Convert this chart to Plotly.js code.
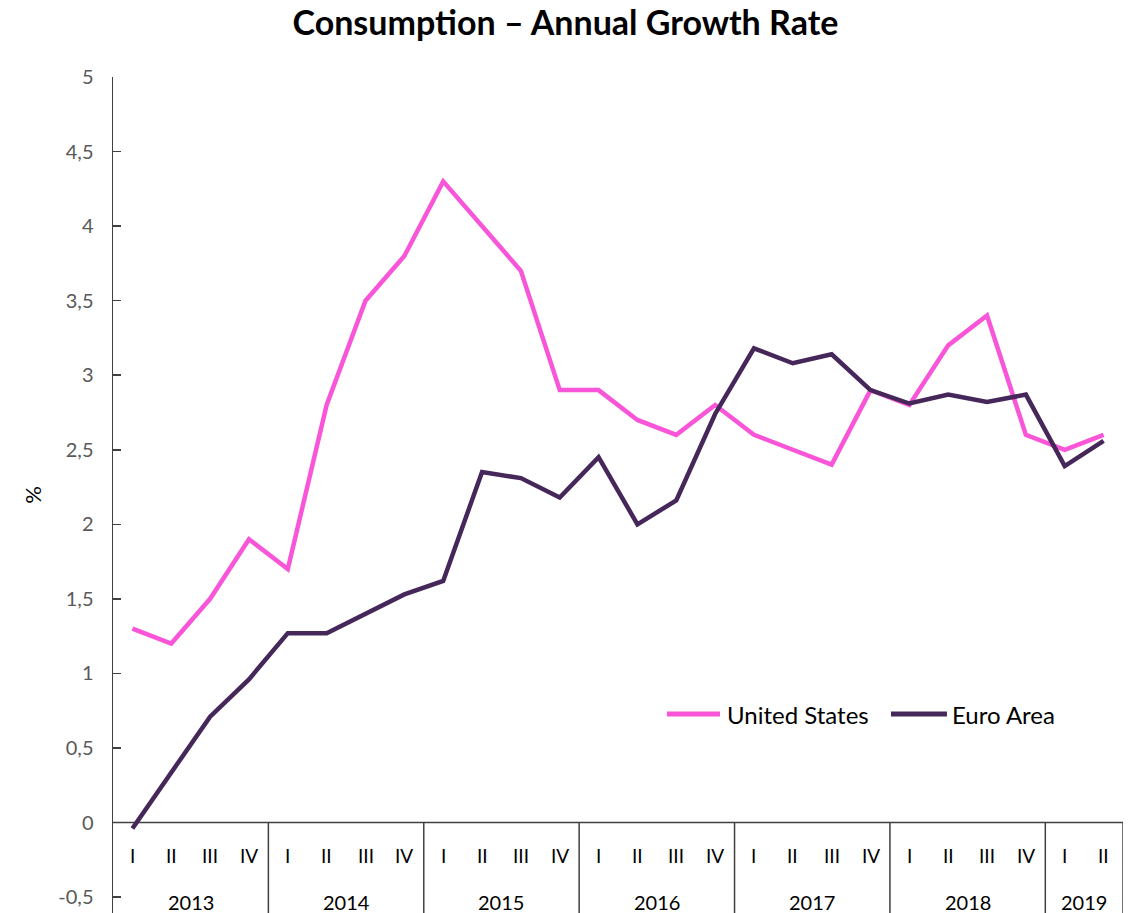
<!DOCTYPE html>
<html>
<head>
<meta charset="utf-8">
<script src="https://cdn.plot.ly/plotly-3.0.1.min.js"></script>
<style>html,body{margin:0;padding:0;background:#fff;}#chart{width:1140px;height:913px;}</style>
</head>
<body>
<div id="chart"></div>
<script>
const quarters = ["I","II","III","IV","I","II","III","IV","I","II","III","IV","I","II","III","IV","I","II","III","IV","I","II","III","IV","I","II"];
const years = ["2013","2014","2015","2016","2017","2018","2019"];
const yearQuarterCounts = [4,4,4,4,4,4,2];
const seriesNames = ["United States","Euro Area"];
const unitedStates = [1.3,1.2,1.5,1.9,1.7,2.8,3.5,3.8,4.3,4.0,3.7,2.9,2.9,2.7,2.6,2.8,2.6,2.5,2.4,2.9,2.8,3.2,3.4,2.6,2.5,2.6];
const euroArea = [-0.04,0.33,0.71,0.96,1.27,1.27,1.40,1.53,1.62,2.35,2.31,2.18,2.45,2.00,2.16,2.74,3.18,3.08,3.14,2.90,2.81,2.87,2.82,2.87,2.39,2.56];
const yTickVals = [-0.5,0,0.5,1,1.5,2,2.5,3,3.5,4,4.5,5];
const yTickText = ["-0,5","0","0,5","1","1,5","2","2,5","3","3,5","4","4,5","5"];

const FONT = "Lato, 'Open Sans', sans-serif";
const COLORS = ["#F955D8", "#46275A"];
const xIdx = quarters.map((q,i)=>i);
const nQ = quarters.length;

const traces = [
  {x:xIdx, y:unitedStates, name:seriesNames[0], type:"scatter", mode:"lines",
   line:{color:COLORS[0], width:4.5}, showlegend:false},
  {x:xIdx, y:euroArea, name:seriesNames[1], type:"scatter", mode:"lines",
   line:{color:COLORS[1], width:4.5}, showlegend:false}
];

const annotations = [];
quarters.forEach((q,i)=>{
  annotations.push({x:i, y:-0.218, xref:"x", yref:"y", text:q, showarrow:false,
    font:{family:FONT, size:19, color:"#000"}});
});
const shapes = [];
let start = 0;
years.forEach((yr,k)=>{
  const n = yearQuarterCounts[k];
  annotations.push({x:start + (n-1)/2, y:-0.53, xref:"x", yref:"y", text:yr, showarrow:false,
    font:{family:FONT, size:20, color:"#000"}});
  start += n;
  shapes.push({type:"line", xref:"x", yref:"y", x0:start-0.5, x1:start-0.5, y0:0, y1:-0.7,
    line:{color:"#404040", width:1.5}, layer:"below"});
});
shapes.push({type:"line", xref:"x", yref:"y", x0:-0.5, x1:nQ-0.5, y0:0, y1:0,
  line:{color:"#404040", width:1.5}, layer:"below"});

// custom legend (paper coordinates)
const legendY = 0.238;
const legendItems = [{x0:0.5485, x1:0.601, tx:0.6055}, {x0:0.7703, x1:0.8257, tx:0.8285}];
legendItems.forEach((it,k)=>{
  shapes.push({type:"line", xref:"paper", yref:"paper", x0:it.x0, x1:it.x1, y0:legendY, y1:legendY,
    line:{color:COLORS[k], width:5}});
  annotations.push({x:it.tx, y:legendY, xref:"paper", yref:"paper", xanchor:"left", yanchor:"middle",
    text:seriesNames[k], showarrow:false, font:{family:FONT, size:24, color:"#000"}});
});

const layout = {
  width:1140, height:913,
  margin:{l:113, r:17, t:77, b:0},
  paper_bgcolor:"#fff", plot_bgcolor:"#fff",
  title:{text:"<b>Consumption – Annual Growth Rate</b>", x:0.496, xanchor:"center", y:0.975, yanchor:"middle",
    font:{family:FONT, size:34, color:"#000"}},
  xaxis:{range:[-0.5, nQ-0.5], showticklabels:false, ticks:"", showgrid:false, zeroline:false, showline:false},
  yaxis:{range:[-0.607,5], tickvals:yTickVals, ticktext:yTickText, ticks:"inside", ticklen:8, tickwidth:1.5,
    tickcolor:"#404040", showline:true, linecolor:"#404040", linewidth:1.5, showgrid:false, zeroline:false,
    ticklabelstandoff:14,
    tickfont:{family:FONT, size:20, color:"#595959"},
    title:{text:"%", standoff:10, font:{family:FONT, size:22, color:"#000"}}},
  showlegend:false,
  annotations:annotations,
  shapes:shapes
};
Plotly.newPlot("chart", traces, layout, {displayModeBar:false, staticPlot:true});
</script>
</body>
</html>
